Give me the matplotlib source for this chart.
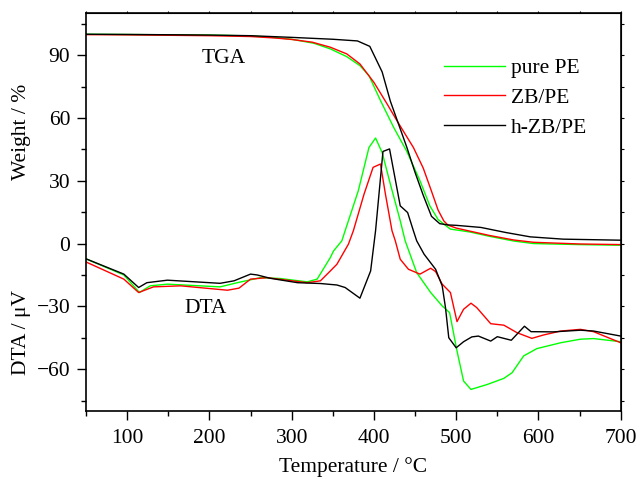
import matplotlib
matplotlib.use("Agg")
import matplotlib.pyplot as plt
from matplotlib.ticker import MultipleLocator
import matplotlib.transforms as mtransforms

plt.rcParams['font.family'] = ['Liberation Serif', 'DejaVu Serif']
plt.rcParams['mathtext.fontset'] = 'stix'

# ---- TGA data (Weight / %) ----
tga_pe_x = [50, 200, 250, 280, 300, 327, 347, 367, 383, 394, 408, 424, 440, 456, 468, 478, 485, 493, 500, 517, 540, 570, 594, 650, 700]
tga_pe_y = [100, 99.6, 99.2, 98.4, 97.6, 95.7, 93, 89.3, 85, 80.2, 68.3, 55.5, 44, 30, 18, 11.5, 9.3, 6.9, 6.5, 5.5, 3.5, 1.2, 0, -0.5, -0.8]

tga_zb_x = [50, 100, 200, 250, 280, 300, 325, 347, 367, 383, 400, 416, 428, 440, 448, 460, 470, 478, 485, 490, 500, 517, 540, 570, 594, 650, 700]
tga_zb_y = [99.8, 99.7, 99.3, 98.9, 98.2, 97.5, 96.2, 93.8, 90.6, 85.8, 77, 66.7, 58.7, 51, 45.9, 36, 25, 16, 10.8, 8.8, 7.4, 5.9, 3.9, 1.7, 0.6, -0.2, -0.5]

tga_hzb_x = [50, 100, 200, 250, 300, 350, 380, 395, 410, 420, 430, 440, 450, 460, 470, 480, 490, 500, 530, 560, 590, 630, 700]
tga_hzb_y = [100, 99.9, 99.6, 99.3, 98.5, 97.6, 96.8, 94.2, 82, 68, 57, 46, 34, 23, 13, 9.5, 8.9, 8.7, 7.7, 5.3, 3.2, 2.1, 1.6]

# ---- DTA data (DTA / uV) ----
dta_pe_x = [50, 96, 115, 128, 149, 213, 234, 262, 286, 319, 331, 347, 351, 361, 365, 381, 394, 402, 410, 420, 432, 438, 452, 469, 483, 492, 501, 509, 518, 538, 558, 568, 582, 598, 627, 651, 667, 700]
dta_pe_y = [-7.3, -15, -23.4, -20.2, -19.4, -20.7, -18.7, -16.3, -16.7, -18.3, -17, -6.7, -3.5, 1.3, 6.1, 25.2, 45.9, 50.4, 43.5, 28.4, 10.9, 1.3, -13.9, -23.4, -29.8, -33, -51.3, -65.7, -69.7, -67.3, -64.4, -61.7, -53.7, -50.2, -47.4, -45.7, -45.4, -46.9]

dta_zb_x = [50, 96, 114, 132, 165, 222, 236, 250, 270, 319, 335, 347, 355, 369, 375, 388, 399, 408, 414, 422, 426, 432, 442, 456, 469, 475, 483, 493, 501, 509, 518, 525, 542, 558, 574, 592, 606, 627, 651, 667, 700]
dta_zb_y = [-8.8, -17, -23.4, -20.7, -20.2, -22.3, -21.3, -17, -16.3, -18.7, -17.8, -13.1, -9.9, -0.3, 6.1, 23.6, 36.4, 38, 23.6, 6.1, 1.3, -7.5, -12.3, -14.6, -11.8, -13.4, -19.4, -23.4, -37.3, -31.4, -28.5, -30.6, -38.3, -39, -42.6, -45.3, -43.7, -41.8, -41, -42.1, -47.4]

dta_hzb_x = [50, 96, 114, 124, 149, 213, 230, 250, 258, 274, 307, 335, 355, 365, 383, 396, 402, 411, 419, 432, 441, 448, 452, 461, 475, 483, 487, 491, 500, 509, 519, 527, 542, 550, 567, 583, 591, 618, 651, 667, 700]
dta_hzb_y = [-7.3, -14.6, -21, -18.7, -17.5, -19, -17.8, -14.6, -15, -16.6, -18.7, -19.1, -19.8, -21, -26.1, -13.1, 6.1, 44, 45.2, 18, 14.8, 6.1, 1.3, -5.1, -12.3, -20.2, -30.6, -45, -49.8, -46.9, -44.6, -44.2, -46.6, -44.5, -46.2, -39.5, -42.1, -42.2, -41.4, -41.8, -44.2]

labels = ['pure PE', 'ZB/PE', 'h-ZB/PE']
colors = ['#00ff00', '#ff0000', '#000000']

fig = plt.figure(figsize=(6.41, 4.79), dpi=100)
ax = fig.add_axes([86/641, 1-411/479, (620.7-86)/641, (411-13.3)/479])

lw = 1.0
ax.plot(tga_pe_x, tga_pe_y, color=colors[0], lw=lw, label=labels[0])
ax.plot(tga_zb_x, tga_zb_y, color=colors[1], lw=lw, label=labels[1])
ax.plot(tga_hzb_x, tga_hzb_y, color=colors[2], lw=lw, label=labels[2])
ax.plot(dta_pe_x, dta_pe_y, color=colors[0], lw=lw)
ax.plot(dta_zb_x, dta_zb_y, color=colors[1], lw=lw)
ax.plot(dta_hzb_x, dta_hzb_y, color=colors[2], lw=lw)

ax.set_xlim(50, 700)
ax.set_ylim(-80, 110)
ax.xaxis.set_major_locator(MultipleLocator(100))
ax.xaxis.set_minor_locator(MultipleLocator(50))
ax.yaxis.set_major_locator(MultipleLocator(30))
ax.yaxis.set_minor_locator(MultipleLocator(15))

fs = 15.5
ax.tick_params(axis='both', which='major', direction='out', length=6.3, width=1.0,
               labelsize=fs, pad=5, top=False, right=False)
ax.tick_params(axis='x', which='major', pad=7)
ax.tick_params(axis='both', which='minor', direction='out', length=3.6, width=1.0,
               top=False, right=False)
for s in ax.spines.values():
    s.set_linewidth(1.2)

# tiny ticks on top and right
ax_t = ax.secondary_xaxis('top')
ax_t.xaxis.set_major_locator(MultipleLocator(50))
ax_t.tick_params(direction='out', length=1.5, width=0.8, labeltop=False)
ax_t.set_xticklabels([])
ax_r = ax.secondary_yaxis('right')
ax_r.yaxis.set_major_locator(MultipleLocator(15))
ax_r.tick_params(direction='out', length=2, width=0.8, labelright=False)
ax_r.set_yticklabels([])

ax.set_xlabel('Temperature / °C', fontsize=fs, labelpad=6.5)

trans = mtransforms.blended_transform_factory(ax.transAxes, ax.transData)
ax.text(-0.12, 53.4, 'Weight / %', rotation=90, transform=trans,
        ha='center', va='center', fontsize=fs)
ax.text(-0.12, -42.7, 'DTA / μV', rotation=90, transform=trans,
        ha='center', va='center', fontsize=fs)

ax.text(217, 88.4, 'TGA', ha='center', va='center', fontsize=fs)
ax.text(195, -31.2, 'DTA', ha='center', va='center', fontsize=fs)

ax.legend(loc='upper left', bbox_to_anchor=((444-86)/534.7, 1-(58-13.3)/397.7),
          frameon=False, fontsize=fs, handlelength=2.85, handletextpad=0.27,
          labelspacing=0.45, borderpad=0, borderaxespad=0)

fig.savefig('out.png', dpi=100)
